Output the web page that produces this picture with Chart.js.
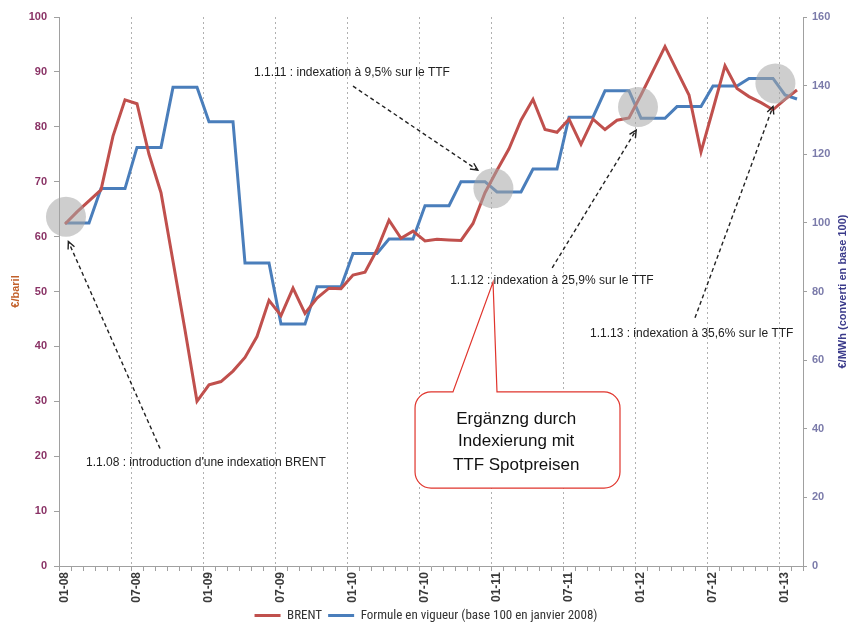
<!DOCTYPE html>
<html><head><meta charset="utf-8">
<script src="https://cdn.jsdelivr.net/npm/chart.js@4.4.1/dist/chart.umd.min.js"></script>
<style>html,body{margin:0;padding:0;background:#fff}canvas{display:block}</style>
</head><body>
<canvas id="c" width="852" height="632"></canvas>
<script>
// ---- data ----
const months = ['01-08','02-08','03-08','04-08','05-08','06-08','07-08','08-08','09-08','10-08','11-08','12-08',
'01-09','02-09','03-09','04-09','05-09','06-09','07-09','08-09','09-09','10-09','11-09','12-09',
'01-10','02-10','03-10','04-10','05-10','06-10','07-10','08-10','09-10','10-10','11-10','12-10',
'01-11','02-11','03-11','04-11','05-11','06-11','07-11','08-11','09-11','10-11','11-11','12-11',
'01-12','02-12','03-12','04-12','05-12','06-12','07-12','08-12','09-12','10-12','11-12','12-12',
'01-13','02-13'];
const brent = [62.3,64.5,66.5,68.5,78.3,84.9,84.2,75,68,55.5,43,30,
33,33.6,35.5,38,41.8,48.4,45.6,50.6,46,48.8,50.6,50.5,
53,53.5,57.6,63,59.7,61,59.2,59.5,59.4,59.3,62.4,68,
72.1,76,81.2,85,79.5,79,81.4,76.8,81.4,79.5,81.2,81.6,
85.8,90.2,94.6,90.2,85.8,75.4,83.2,91.1,87,85.5,84.4,83.1,
85,86.7];
const formule = [100,100,100,110,110,110,122,122,122,139.5,139.5,139.5,
129.5,129.5,129.5,88.3,88.3,88.3,70.5,70.5,70.5,81.4,81.4,81.4,
91.1,91.1,91.1,95.3,95.3,95.3,105,105,105,112,112,112,
109,109,109,115.7,115.7,115.7,130.8,130.8,130.8,138.5,138.5,138.5,
130.5,130.5,130.5,133.9,133.9,133.9,139.9,139.9,139.9,142.1,142.1,142.1,
137.3,136.1];
const seriesNames = ['BRENT','Formule en vigueur (base 100 en janvier 2008)'];
const leftTitle = '€/baril';
const rightTitle = '€/MWh (converti en base 100)';
// annotations anchored in (category index, left-axis value)
const notes = [
  {text:"1.1.08 : introduction d'une indexation BRENT", i:1.75, v:18.9},
  {text:"1.1.11 : indexation à 9,5% sur le TTF", i:15.75, v:89.8},
  {text:"1.1.12 : indexation à 25,9% sur le TTF", i:32.1, v:51.9},
  {text:"1.1.13 : indexation à 35,6% sur le TTF", i:43.75, v:42.4}
];
const arrows = [[7.92,21.4,0.28,59.1],[24.0,87.4,34.4,72.1],[40.6,54.3,47.6,79.4],[52.5,45.2,59.0,83.7]];
const circles = [[0.08,63.6],[35.7,68.8],[47.75,83.6],[59.2,87.9]];
const callout = {left:29.17, right:46.25, top:31.7, bottom:14.2, tip:[35.67,51.7], base1:32.33, base2:36.0,
  lines:['Ergänzng durch','Indexierung mit','TTF Spotpreisen'], cx:37.6, lineV:[26.8,22.8,18.4]};

const FONT = '"Liberation Sans", Arial, sans-serif';
const NARROW = '"Liberation Sans Narrow", "Roboto Condensed", "Liberation Sans", Arial, sans-serif';

const annot = {
  id:'annot',
  afterDatasetsDraw(chart){
    const {ctx, scales:{x, y}} = chart;
    const X = i => x.getPixelForValue(i);
    const Y = v => y.getPixelForValue(v);
    ctx.save();
    // circles
    ctx.fillStyle = 'rgba(165,165,165,0.55)';
    circles.forEach(c => { ctx.beginPath(); ctx.arc(X(c[0]), Y(c[1]), 20, 0, Math.PI*2); ctx.fill(); });
    // arrows
    ctx.strokeStyle = '#222'; ctx.lineWidth = 1.4;
    arrows.forEach(a => {
      const x1=X(a[0]), y1=Y(a[1]), x2=X(a[2]), y2=Y(a[3]);
      ctx.setLineDash([4,3]);
      ctx.beginPath(); ctx.moveTo(x1,y1); ctx.lineTo(x2,y2); ctx.stroke();
      ctx.setLineDash([]);
      const ang = Math.atan2(y2-y1, x2-x1), L = 8;
      ctx.beginPath();
      ctx.moveTo(x2 - L*Math.cos(ang-0.45), y2 - L*Math.sin(ang-0.45));
      ctx.lineTo(x2, y2);
      ctx.lineTo(x2 - L*Math.cos(ang+0.45), y2 - L*Math.sin(ang+0.45));
      ctx.stroke();
    });
    // texts
    ctx.fillStyle = '#222'; ctx.font = '12px ' + FONT; ctx.textBaseline = 'middle'; ctx.textAlign = 'left';
    notes.forEach(n => ctx.fillText(n.text, X(n.i), Y(n.v)));
    // callout
    const L = X(callout.left), R = X(callout.right), T = Y(callout.top), B = Y(callout.bottom), r = 16;
    ctx.beginPath();
    ctx.moveTo(L + r, T);
    ctx.lineTo(X(callout.base1), T);
    ctx.lineTo(X(callout.tip[0]), Y(callout.tip[1]));
    ctx.lineTo(X(callout.base2), T);
    ctx.lineTo(R - r, T);
    ctx.arcTo(R, T, R, T + r, r);
    ctx.lineTo(R, B - r);
    ctx.arcTo(R, B, R - r, B, r);
    ctx.lineTo(L + r, B);
    ctx.arcTo(L, B, L, B - r, r);
    ctx.lineTo(L, T + r);
    ctx.arcTo(L, T, L + r, T, r);
    ctx.closePath();
    ctx.fillStyle = '#fff'; ctx.fill();
    ctx.strokeStyle = '#e0342c'; ctx.lineWidth = 1.2; ctx.stroke();
    ctx.fillStyle = '#111'; ctx.font = '17px ' + FONT; ctx.textAlign = 'center';
    callout.lines.forEach((t, k) => ctx.fillText(t, X(callout.cx), Y(callout.lineV[k])));
    // right axis title (reads bottom to top)
    const ca = chart.chartArea;
    ctx.save();
    ctx.translate(843, (ca.top + ca.bottom)/2);
    ctx.rotate(-Math.PI/2);
    ctx.font = 'bold 11px ' + FONT; ctx.fillStyle = '#3a3a8a'; ctx.textAlign = 'center'; ctx.textBaseline = 'middle';
    ctx.fillText(rightTitle, 0, 0);
    ctx.restore();
    ctx.restore();
  }
};

new Chart(document.getElementById('c'), {
  type: 'line',
  data: {
    labels: months,
    datasets: [
      {label: seriesNames[0], data: brent, yAxisID: 'y', borderColor: '#c0504d', backgroundColor: '#c0504d',
       borderWidth: 3, pointRadius: 0, tension: 0},
      {label: seriesNames[1], data: formule, yAxisID: 'y1', borderColor: '#4a7ebb', backgroundColor: '#4a7ebb',
       borderWidth: 3, pointRadius: 0, tension: 0}
    ]
  },
  options: {
    responsive: false, animation: false, devicePixelRatio: 1,
    layout: {padding: {top: 17, left: 0, right: 0, bottom: 0}},
    plugins: {
      tooltip: {enabled: false},
      legend: {position: 'bottom',
        labels: {usePointStyle: true, pointStyle: 'line', pointStyleWidth: 26, boxHeight: 3,
          font: {size: 13, family: NARROW}, color: '#333', padding: 6}}
    },
    scales: {
      x: {
        offset: true,
        grid: {offset: true, color: c => (c.index % 6 === 0 && c.index > 0 && c.index < months.length) ? '#b0b0b0' : 'rgba(0,0,0,0)',
               tickColor: '#a0a0a0', tickLength: 5, lineWidth: 1},
        border: {color: '#a0a0a0', dash: [2,3]},
        ticks: {autoSkip: false, maxRotation: 90, minRotation: 90, padding: 1,
          callback: (v, i) => i % 6 === 0 ? months[i] : '',
          font: {size: 12, weight: 'bold', family: FONT}, color: '#3a3a3a'},
        afterFit: s => { s.height = 37; }
      },
      y: {
        position: 'left', min: 0, max: 100,
        ticks: {stepSize: 10, padding: 7, font: {size: 11, weight: 'bold', family: FONT}, color: '#8a3366'},
        grid: {drawOnChartArea: false, tickLength: 5, color: '#a0a0a0'},
        border: {color: '#a0a0a0'},
        title: {display: true, text: leftTitle, color: '#c2602a', font: {size: 11, weight: 'bold', family: FONT}, padding: {top: 9, bottom: 0}},
        afterFit: s => { s.width = 59; }
      },
      y1: {
        position: 'right', min: 0, max: 160,
        ticks: {stepSize: 20, padding: 5, font: {size: 11, weight: 'bold', family: FONT}, color: '#7b7baa'},
        grid: {drawOnChartArea: false, tickLength: 4, color: '#a0a0a0'},
        border: {color: '#a0a0a0'},
        afterFit: s => { s.width = 49; }
      }
    }
  },
  plugins: [annot]
});
</script>
</body></html>
